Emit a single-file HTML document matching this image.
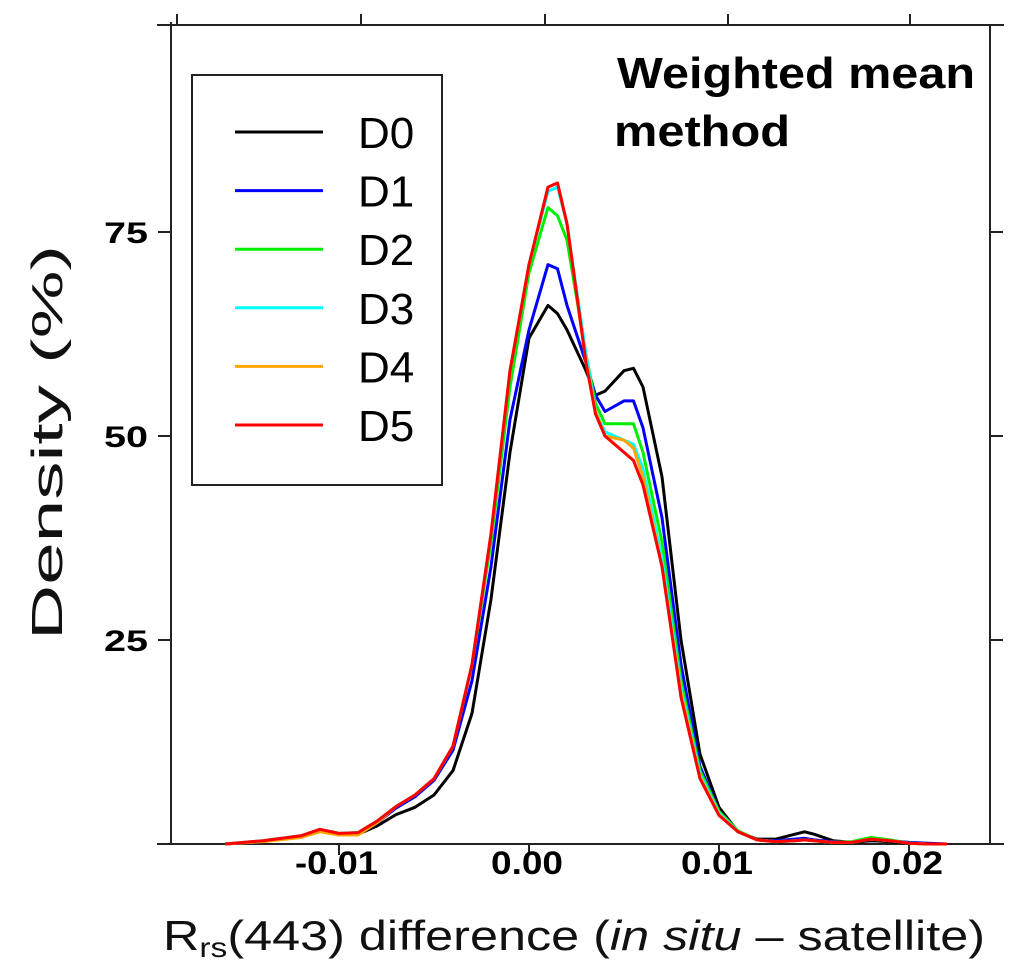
<!DOCTYPE html>
<html><head><meta charset="utf-8"><style>
body{margin:0;background:#fff}
svg{display:block;font-family:"Liberation Sans",sans-serif}
</style></head><body>
<svg id="chart" width="1024" height="979" viewBox="0 0 1024 979">
<g id="axes"></g>
<g id="series"></g>
<g>
<rect x="192" y="75" width="250" height="410" fill="#fff" stroke="#222" stroke-width="2"/>
<g id="legend-items"></g>
</g>
<text x="617" y="88" textLength="358" lengthAdjust="spacingAndGlyphs" font-size="44" font-weight="bold">Weighted mean</text>
<text x="614" y="146" textLength="176" lengthAdjust="spacingAndGlyphs" font-size="44" font-weight="bold">method</text>
<text transform="translate(62,640) rotate(-90)" textLength="395" lengthAdjust="spacingAndGlyphs" font-size="44" fill="#111">Density (%)</text>
<text x="163" y="950" textLength="822" lengthAdjust="spacingAndGlyphs" font-size="42" fill="#111">R<tspan font-size="28" dy="7">rs</tspan><tspan dy="-7">(443) difference (</tspan><tspan font-style="italic">in situ</tspan> – satellite)</text>
</svg>
<script>
const xs=[-0.016,-0.014,-0.012,-0.011,-0.010,-0.009,-0.008,-0.007,-0.006,-0.005,-0.004,-0.003,-0.002,-0.001,0.000,0.001,0.0015,0.002,0.003,0.0035,0.004,0.005,0.0055,0.006,0.007,0.008,0.009,0.010,0.011,0.012,0.013,0.014,0.0145,0.015,0.016,0.017,0.018,0.019,0.020,0.021,0.022];
const d0=[0,0.3,1,1.6,1.2,1.2,2.2,3.6,4.5,6,9,16,30,48,62,66,65,63,58,55,55.5,58,58.3,56,45,25,11,4.5,1.5,0.6,0.6,1.2,1.5,1.2,0.4,0.2,0.4,0.3,0.1,0,0];
const d1=[0,0.3,1,1.7,1.2,1.3,2.6,4.4,5.8,7.8,11.5,20,34,52,63,71,70.5,66,59,55,53,54.3,54.3,51,40,22,9.5,4,1.5,0.5,0.4,0.6,0.7,0.5,0.3,0.2,0.6,0.4,0.2,0.1,0];
const d2=[0,0.4,1,1.8,1.3,1.4,2.8,4.6,6,8,12,22,37,56,70,78,77,74,60,54,51.5,51.5,51.5,48,37,20,9,4,1.6,0.5,0.3,0.4,0.5,0.4,0.2,0.3,0.8,0.5,0.1,0,0];
const d3=[0,0.4,1,1.8,1.3,1.4,2.8,4.6,6,8,12,22,38,58,71,80,80.5,76,60,53,50.5,49.5,49,46,35,19,8.5,3.8,1.5,0.5,0.3,0.4,0.5,0.4,0.2,0.2,0.6,0.4,0.1,0,0];
const d4=[0,0.3,0.8,1.5,1.1,1.1,2.6,4.6,6,8,12,22,38,58,71,80.5,81,76,59,53,50,49.5,48.5,45,34,18.5,8.2,3.6,1.5,0.5,0.3,0.4,0.5,0.4,0.2,0.2,0.6,0.4,0.1,0,0];
const d5=[0,0.4,1,1.8,1.3,1.4,2.8,4.6,6,8,12,22,38,58,71,80.5,81,76,59,52.7,50,48,47,44,34,18,8,3.5,1.5,0.5,0.3,0.4,0.5,0.4,0.2,0.2,0.6,0.4,0.1,0,0];
const seriesNames=["D0","D1","D2","D3","D4","D5"];
const seriesColors=["#000000","#0000ff","#00ee00","#00ffff","#ffa500","#ff0000"];
const seriesData=[d0,d1,d2,d3,d4,d5];
const xTicks=[-0.01,0.00,0.01,0.02];
const xTickLabels=["-0.01","0.00","0.01","0.02"];
const yTicks=[25,50,75];
const yTickLabels=["25","50","75"];

const NS="http://www.w3.org/2000/svg";
const X=v=>529+v*19000;
const Y=v=>844-v*8.16;
function mk(tag,attrs,parent){const e=document.createElementNS(NS,tag);for(const k in attrs)e.setAttribute(k,attrs[k]);parent.appendChild(e);return e;}
const axes=document.getElementById('axes');
let e;
e=mk('line',{x1:171,y1:22,x2:171,y2:844,stroke:'#222','stroke-width':2},axes);


e=mk('line',{x1:990,y1:25,x2:990,y2:844,stroke:'#222','stroke-width':2},axes);


e=mk('line',{x1:157,y1:25,x2:1004,y2:25,stroke:'#222','stroke-width':2},axes);


e=mk('line',{x1:157,y1:844,x2:1004,y2:844,stroke:'#222','stroke-width':2},axes);


[177,361,545,728,910].forEach(tx=>{
  e=mk('line',{x1:tx,y1:14,x2:tx,y2:25,stroke:'#222','stroke-width':2},axes);
  
  
});
xTicks.forEach((t,i)=>{
  e=mk('line',{x1:X(t),y1:844,x2:X(t),y2:855,stroke:'#222','stroke-width':2},axes);
  
  
  e=mk('text',{x:X(t)-(xTickLabels[i].length===5?44:38),y:874,textLength:(xTickLabels[i].length===5?83:72),lengthAdjust:'spacingAndGlyphs','font-size':32,'font-weight':'bold'},axes);
  e.textContent=xTickLabels[i];
  
  
});
yTicks.forEach((t,i)=>{
  e=mk('line',{x1:158,y1:Y(t),x2:171,y2:Y(t),stroke:'#222','stroke-width':2},axes);
  
  
  e=mk('line',{x1:990,y1:Y(t),x2:1003,y2:Y(t),stroke:'#222','stroke-width':2},axes);
  
  
  e=mk('text',{x:104,y:Y(t)+11,textLength:44,lengthAdjust:'spacingAndGlyphs','font-size':30,'font-weight':'bold'},axes);
  e.textContent=yTickLabels[i];
  
  
});
const sg=document.getElementById('series');
seriesData.forEach((d,s)=>{
  const pts=xs.map((x,i)=>X(x).toFixed(1)+','+Y(d[i]).toFixed(1)).join(' ');
  e=mk('polyline',{points:pts,fill:'none',stroke:seriesColors[s],'stroke-width':3,'stroke-linejoin':'round'},sg);
  
  
});
const lg=document.getElementById('legend-items');
seriesNames.forEach((n,i)=>{
  const y=132+i*58.6;
  e=mk('line',{x1:235,y1:y,x2:323,y2:y,stroke:seriesColors[i],'stroke-width':3},lg);
  
  
  e=mk('text',{x:358,y:y+16,'font-size':44,fill:'#000'},lg);
  e.textContent=n;
  
  
});
</script>
</body></html>
